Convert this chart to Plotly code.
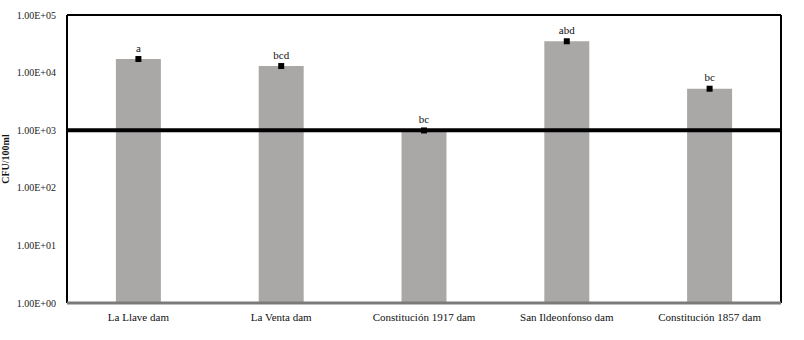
import plotly.graph_objects as go

categories = ["La Llave dam", "La Venta dam", "Constitución 1917 dam", "San Ildeonfonso dam", "Constitución 1857 dam"]
values = [17200, 13000, 990, 35000, 5250]
letters = ["a", "bcd", "bc", "abd", "bc"]
threshold = 1000
tick_vals = [1, 10, 100, 1000, 10000, 100000]
tick_text = ["1.00E+00", "1.00E+01", "1.00E+02", "1.00E+03", "1.00E+04", "1.00E+05"]

serif = "Liberation Serif, Times New Roman, serif"

fig = go.Figure()
fig.add_trace(go.Bar(x=categories, y=values, marker_color="#aaa7a7", marker_line_width=0, width=0.315))
fig.add_trace(go.Scatter(x=categories, y=values, mode="markers+text", text=letters,
                         textposition="top center",
                         textfont=dict(family=serif, size=11, color="#111"),
                         marker=dict(symbol="square", size=6, color="black")))

fig.add_shape(type="line", xref="paper", yref="y", x0=0, x1=1, y0=threshold, y1=threshold,
              line=dict(color="black", width=4))
for s in [dict(x0=0, x1=1, y0=1, y1=1), dict(x0=0, x1=0, y0=0, y1=1), dict(x0=1, x1=1, y0=0, y1=1)]:
    fig.add_shape(type="line", xref="paper", yref="paper", line=dict(color="black", width=2), **s)
fig.add_shape(type="line", xref="paper", yref="paper", x0=0, x1=1, y0=0, y1=0,
              line=dict(color="#7a7a7a", width=3))

fig.update_layout(
    width=804, height=340,
    margin=dict(l=67, r=23, t=15, b=37),
    paper_bgcolor="white", plot_bgcolor="white",
    showlegend=False,
    font=dict(family=serif, size=10, color="#222"),
)
fig.update_xaxes(showgrid=False, showline=False, ticks="", automargin=False, ticklabelstandoff=6,
                 tickfont=dict(family=serif, size=11, color="#111"))
fig.update_yaxes(type="log", range=[0, 5], tickvals=tick_vals, ticktext=tick_text,
                 showgrid=False, showline=False, ticks="", zeroline=False, automargin=False,
                 ticklabelstandoff=10,
                 tickfont=dict(family=serif, size=10, color="#222"),
                 title=dict(text="<b>CFU/100ml</b>", font=dict(family=serif, size=10, color="#111"), standoff=6))

fig.write_html("out.html", config={"displayModeBar": False},
               post_script="document.body.style.margin='0';document.body.style.overflow='hidden';")
